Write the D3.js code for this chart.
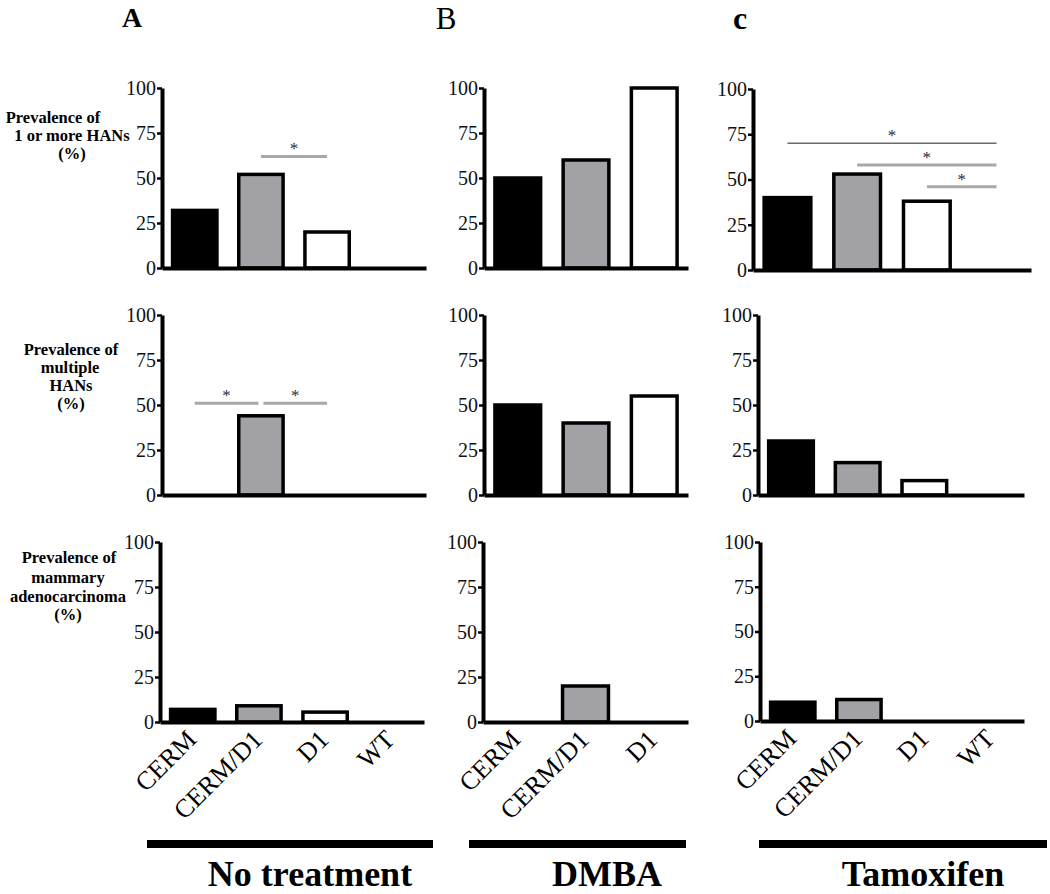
<!DOCTYPE html>
<html>
<head>
<meta charset="utf-8">
<script src="https://cdn.jsdelivr.net/npm/d3@7"></script>
<style>
  html, body { margin: 0; padding: 0; background: #fff; }
  svg { display: block; }
</style>
</head>
<body>
<svg id="chart" width="1050" height="894"></svg>
<script>
// ---------- data ----------
const catsFour = ["CERM", "CERM/D1", "D1", "WT"];
const catsThree = ["CERM", "CERM/D1", "D1"];
const yTicks = [0, 25, 50, 75, 100];

const rowLabels = [
  ["Prevalence of", "1 or more HANs", "(%)"],
  ["Prevalence of", "multiple", "HANs", "(%)"],
  ["Prevalence of", "mammary", "adenocarcinoma", "(%)"]
];
const panelLetters = ["A", "B", "c"];
const treatments = ["No treatment", "DMBA", "Tamoxifen"];

// values (%) per row, per treatment
const hans1_noTreat = [32, 52, 20, 0];
const hans1_dmba    = [50, 60, 100];
const hans1_tamox   = [40, 53, 38, 0];
const multi_noTreat = [0, 44, 0, 0];
const multi_dmba    = [50, 40, 55];
const multi_tamox   = [30, 18, 8, 0];
const adeno_noTreat = [7, 9, 5.5, 0];
const adeno_dmba    = [0, 20, 0];
const adeno_tamox   = [10.5, 12, 0, 0];

// significance brackets: [fromIndex, toIndex, level(%)]
const sig_hans1_noTreat = [[1, 2, 62]];
const sig_multi_noTreat = [[0, 1, 51], [1, 2, 51]];
const sig_hans1_tamox   = [[0, 3, 70], [1, 3, 58], [2, 3, 46]];

// ---------- layout ----------
const fills = { "CERM": "#000000", "CERM/D1": "#a2a2a6", "D1": "#ffffff", "WT": "#ffffff" };
const panels = [
  // row 1
  { cats: catsFour,  vals: hans1_noTreat, x: [162, 426], sig: sig_hans1_noTreat, y: [268, 88] },
  { cats: catsThree, vals: hans1_dmba,    x: [484, 688], sig: [], y: [268, 88] },
  { cats: catsFour,  vals: hans1_tamox,   x: [753, 1031], sig: sig_hans1_tamox, y: [270, 89], thinFirst: true },
  // row 2
  { cats: catsFour,  vals: multi_noTreat, x: [162, 426], sig: sig_multi_noTreat, y: [495, 315], split: true },
  { cats: catsThree, vals: multi_dmba,    x: [484, 688], sig: [], y: [495, 315] },
  { cats: catsFour,  vals: multi_tamox,   x: [758, 1024], sig: [], y: [495, 315] },
  // row 3
  { cats: catsFour,  vals: adeno_noTreat, x: [160, 424], sig: [], y: [722, 542], labels: true },
  { cats: catsThree, vals: adeno_dmba,    x: [483, 688], sig: [], y: [722, 542], labels: true },
  { cats: catsFour,  vals: adeno_tamox,   x: [760, 1024], sig: [], y: [721, 542], labels: true }
];

const svg = d3.select("#chart");
const serif = "'Liberation Serif', 'Times New Roman', Times, serif";

panels.forEach(p => {
  const x = d3.scaleBand().domain(p.cats).range(p.x).paddingInner(0.33).paddingOuter(0.16);
  const y = d3.scaleLinear().domain([0, 100]).range(p.y);
  const g = svg.append("g");

  // bars
  g.selectAll("rect.bar")
    .data(p.cats.map((c, i) => ({ c, v: p.vals[i] })).filter(d => d.v > 0))
    .join("rect")
    .attr("class", "bar")
    .attr("x", d => x(d.c))
    .attr("width", x.bandwidth())
    .attr("y", d => y(d.v))
    .attr("height", d => y(0) - y(d.v))
    .attr("fill", d => fills[d.c])
    .attr("stroke", "#000")
    .attr("stroke-width", 3.5);

  // y axis
  const ya = g.append("g")
    .attr("transform", `translate(${p.x[0]},0)`)
    .call(d3.axisLeft(y).tickValues(yTicks).tickSize(5).tickPadding(1).tickSizeOuter(0));
  ya.select(".domain").attr("stroke", "#000").attr("stroke-width", 4);
  ya.selectAll(".tick line").attr("stroke", "#000").attr("stroke-width", 2.5);
  ya.selectAll(".tick text")
    .attr("font-family", serif).attr("font-size", 20).attr("fill", "#111");

  // x axis
  const xa = g.append("g")
    .attr("transform", `translate(0,${y(0)})`)
    .call(d3.axisBottom(x).tickSize(0).tickSizeOuter(0).tickFormat(""));
  xa.select(".domain").attr("stroke", "#000").attr("stroke-width", 4);

  // category labels
  if (p.labels) {
    g.selectAll("text.cat")
      .data(p.cats)
      .join("text")
      .attr("class", "cat")
      .attr("transform", c => `translate(${x(c) + x.bandwidth() / 2 + 5},${y(0) + 19}) rotate(-45)`)
      .attr("text-anchor", "end")
      .attr("font-family", serif)
      .attr("font-size", 26)
      .attr("fill", "#000")
      .text(c => c);
  }

  // significance lines
  p.sig.forEach((s, k) => {
    const gap = 2.5;
    const xa0 = x(p.cats[s[0]]) + x.bandwidth() / 2 + (p.split && s[0] > 0 ? gap : 0);
    const xa1 = x(p.cats[s[1]]) + x.bandwidth() / 2 - (p.split && s[1] === 1 ? gap : 0);
    const thin = p.thinFirst && k === 0;
    g.append("line")
      .attr("x1", xa0).attr("x2", xa1)
      .attr("y1", y(s[2])).attr("y2", y(s[2]))
      .attr("stroke", thin ? "#6a6a6a" : "#a8a8a8")
      .attr("stroke-width", thin ? 1.5 : 3);
    g.append("text")
      .attr("x", (xa0 + xa1) / 2)
      .attr("y", y(s[2]) - 2)
      .attr("text-anchor", "middle")
      .attr("font-family", serif)
      .attr("font-size", 17)
      .attr("fill", "#2a2a3a")
      .text("*");
  });
});

// row labels
const rowLabelPos = [
  { xs: [53, 72, 72], ys: [123, 141, 159] },
  { xs: [71, 70, 71, 71], ys: [355, 373, 391, 409] },
  { xs: [69, 68, 68, 68], ys: [563, 583, 602, 620] }
];
rowLabels.forEach((lines, r) => {
  lines.forEach((t, i) => {
    svg.append("text")
      .attr("x", rowLabelPos[r].xs[i])
      .attr("y", rowLabelPos[r].ys[i])
      .attr("text-anchor", "middle")
      .attr("font-family", serif)
      .attr("font-weight", "bold")
      .attr("font-size", 16.5)
      .attr("fill", "#000")
      .text(t);
  });
});

// panel letters
const letterPos = [
  { x: 132, y: 27, size: 28, weight: "bold" },
  { x: 446, y: 29, size: 31, weight: "normal" },
  { x: 740, y: 29, size: 32, weight: "bold" }
];
panelLetters.forEach((t, i) => {
  svg.append("text")
    .attr("x", letterPos[i].x).attr("y", letterPos[i].y)
    .attr("text-anchor", "middle")
    .attr("font-family", serif)
    .attr("font-weight", letterPos[i].weight)
    .attr("font-size", letterPos[i].size)
    .attr("fill", "#000")
    .text(t);
});

// treatment bars and labels
const treatBars = [ [147, 433], [469, 686], [759, 1047] ];
const treatCenters = [310, 607, 923];
treatments.forEach((t, i) => {
  svg.append("rect")
    .attr("x", treatBars[i][0]).attr("y", 840)
    .attr("width", treatBars[i][1] - treatBars[i][0]).attr("height", 8)
    .attr("fill", "#000");
  svg.append("text")
    .attr("x", treatCenters[i]).attr("y", 886)
    .attr("text-anchor", "middle")
    .attr("font-family", serif)
    .attr("font-weight", "bold")
    .attr("font-size", 36)
    .attr("fill", "#000")
    .text(t);
});
</script>
</body>
</html>
